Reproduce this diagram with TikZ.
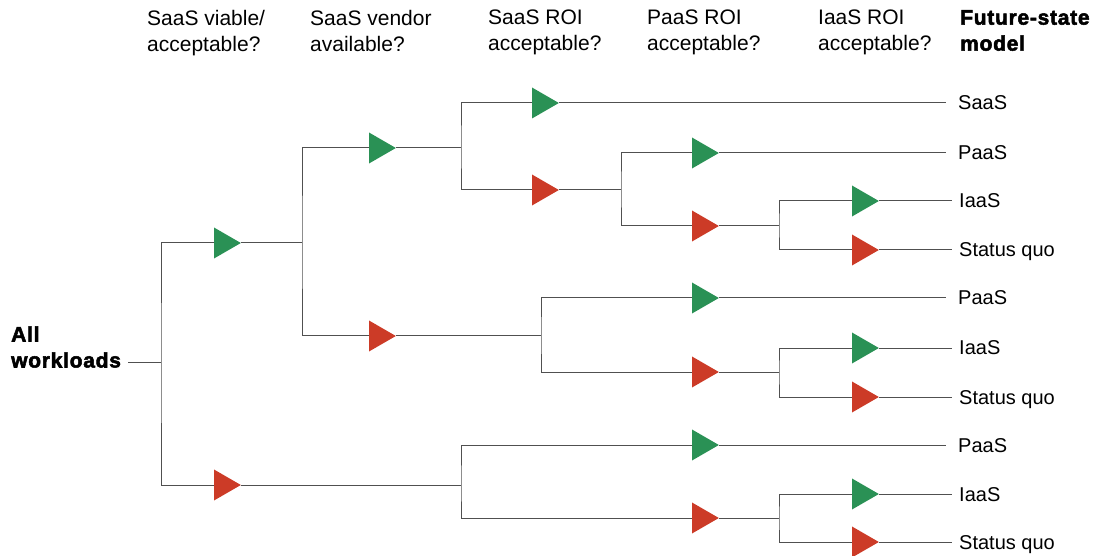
\documentclass[tikz,border=0pt]{standalone}
\usepackage{fontspec}
\setmainfont{Liberation Sans}
\newfontfamily\heavyfont[FakeBold=2.5,LetterSpace=3.5]{Liberation Sans Bold}
\usetikzlibrary{shapes.geometric}
\definecolor{yesgreen}{RGB}{42,145,85}
\definecolor{nored}{RGB}{204,59,39}
\definecolor{linegray}{RGB}{80,80,80}
\begin{document}
\begin{tikzpicture}[x=1pt,y=-1pt,
  tri/.style={regular polygon, regular polygon sides=3, shape border rotate=-90,
    minimum size=35.8pt, inner sep=0pt, outer sep=0pt, draw=none, anchor=west},
  yes/.style={tri, fill=yesgreen},
  no/.style={tri, fill=nored},
  conn/.style={draw=linegray, line width=1pt},
  head/.style={anchor=north west, align=left, inner sep=0pt, font=\fontsize{21}{26}\selectfont},
  boldhead/.style={head, font=\fontsize{21}{26}\heavyfont},
  leaf/.style={anchor=west, inner sep=0pt, text height=15pt, text depth=3pt, font=\fontsize{20}{24}\selectfont}
]
\useasboundingbox (0,0) rectangle (1112,556);

% headers
\node[head] (h1) at (147,10) {SaaS viable/\\acceptable?};
\node[head] (h2) at (310,10) {SaaS vendor\\available?};
\node[head] (h3) at (488,10) {SaaS ROI\\acceptable?};
\node[head] (h4) at (647,10) {PaaS ROI\\acceptable?};
\node[head] (h5) at (818,10) {IaaS ROI\\acceptable?};
\node[boldhead] (h6) at (960,10) {Future-state\\model};

% root
\node[boldhead, anchor=west] (root) at (11,347) {All\\workloads};

% split coordinates
\coordinate (s0) at (161,362);
\coordinate (s1) at (302,243);
\coordinate (s11) at (461,148);
\coordinate (s112) at (621,190);
\coordinate (s1122) at (779,226);
\coordinate (s12) at (541,336);
\coordinate (s122) at (779,372);
\coordinate (s2) at (461,485);
\coordinate (s22) at (779,518);

% triangles
\node[yes] (t1) at (214,243) {};
\node[no]  (t2) at (214,485) {};
\node[yes] (t11) at (369,148) {};
\node[no]  (t12) at (369,336) {};
\node[yes] (t111) at (532,103) {};
\node[no]  (t112) at (532,190) {};
\node[yes] (t1121) at (692,153) {};
\node[no]  (t1122) at (692,226) {};
\node[yes] (t11221) at (852,201) {};
\node[no]  (t11222) at (852,250) {};
\node[yes] (t121) at (692,298) {};
\node[no]  (t122) at (692,372) {};
\node[yes] (t1221) at (852,348) {};
\node[no]  (t1222) at (852,397) {};
\node[yes] (t21) at (692,445) {};
\node[no]  (t22) at (692,518) {};
\node[yes] (t221) at (852,494) {};
\node[no]  (t222) at (852,542) {};

% leaves
\node[leaf] (l111) at (958,104) {SaaS};
\node[leaf] (l1121) at (958,154) {PaaS};
\node[leaf] (l11221) at (959,202) {IaaS};
\node[leaf] (l11222) at (959,251) {Status quo};
\node[leaf] (l121) at (958,299) {PaaS};
\node[leaf] (l1221) at (959,349) {IaaS};
\node[leaf] (l1222) at (959,398) {Status quo};
\node[leaf] (l21) at (958,446) {PaaS};
\node[leaf] (l221) at (959,495) {IaaS};
\node[leaf] (l222) at (959,543) {Status quo};

% connectors
\draw[conn] ([xshift=7pt]root.east |- s0) -- (s0);
\draw[conn] (t1.west) -| (s0) |- (t2.west);
\draw[conn] (t1.east) -- (s1);
\draw[conn] (t2.east) -- (s2);
\draw[conn] (t11.west) -| (s1) |- (t12.west);
\draw[conn] (t11.east) -- (s11);
\draw[conn] (t12.east) -- (s12);
\draw[conn] (t111.west) -| (s11) |- (t112.west);
\draw[conn] (t111.east) -- ([xshift=-12pt]l111.west |- t111.east);
\draw[conn] (t112.east) -- (s112);
\draw[conn] (t1121.west) -| (s112) |- (t1122.west);
\draw[conn] (t1121.east) -- ([xshift=-12pt]l1121.west |- t1121.east);
\draw[conn] (t1122.east) -- (s1122);
\draw[conn] (t11221.west) -| (s1122) |- (t11222.west);
\draw[conn] (t11221.east) -- ([xshift=-7pt]l11221.west |- t11221.east);
\draw[conn] (t11222.east) -- ([xshift=-7pt]l11222.west |- t11222.east);
\draw[conn] (t121.west) -| (s12) |- (t122.west);
\draw[conn] (t121.east) -- ([xshift=-12pt]l121.west |- t121.east);
\draw[conn] (t122.east) -- (s122);
\draw[conn] (t1221.west) -| (s122) |- (t1222.west);
\draw[conn] (t1221.east) -- ([xshift=-7pt]l1221.west |- t1221.east);
\draw[conn] (t1222.east) -- ([xshift=-7pt]l1222.west |- t1222.east);
\draw[conn] (t21.west) -| (s2) |- (t22.west);
\draw[conn] (t21.east) -- ([xshift=-12pt]l21.west |- t21.east);
\draw[conn] (t22.east) -- (s22);
\draw[conn] (t221.west) -| (s22) |- (t222.west);
\draw[conn] (t221.east) -- ([xshift=-7pt]l221.west |- t221.east);
\draw[conn] (t222.east) -- ([xshift=-7pt]l222.west |- t222.east);
\end{tikzpicture}
\end{document}
